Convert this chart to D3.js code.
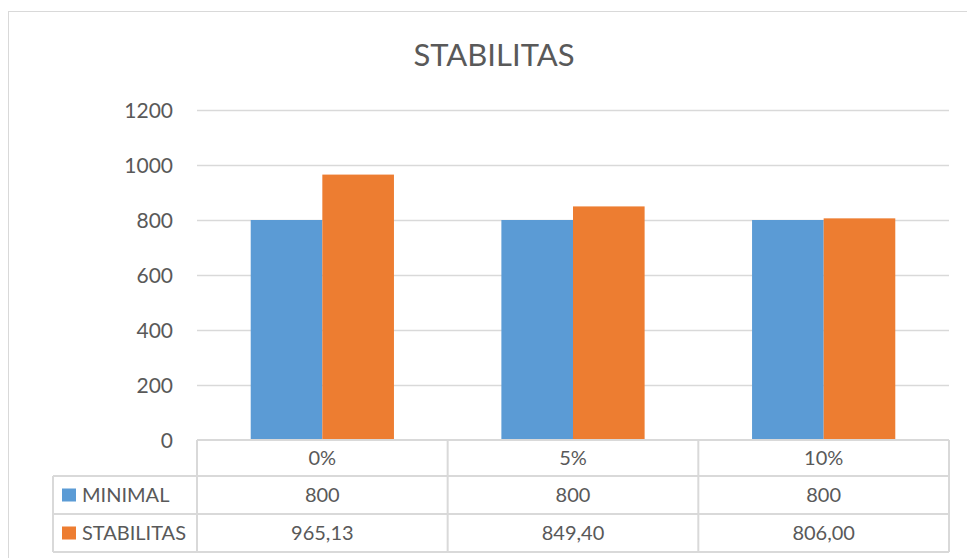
<!DOCTYPE html>
<html>
<head>
<meta charset="utf-8">
<script src="https://cdn.jsdelivr.net/npm/d3@7"></script>
<style>
  html, body { margin: 0; padding: 0; background: #fff; }
  svg { display: block; font-family: "Lato", "Open Sans", sans-serif; }
</style>
</head>
<body>
<svg id="chart" width="967" height="558"></svg>
<script>
// Chart data
const title = "STABILITAS";
const categories = ["0%", "5%", "10%"];
const seriesNames = ["MINIMAL", "STABILITAS"];
const minimalValues = [800, 800, 800];
const stabilitasValues = [965.13, 849.40, 806.00];
const minimalLabels = ["800", "800", "800"];
const stabilitasLabels = ["965,13", "849,40", "806,00"];
const yTicks = [0, 200, 400, 600, 800, 1000, 1200];
const colors = ["#5B9BD5", "#ED7D31"];

const values = [minimalValues, stabilitasValues];
const labels = [minimalLabels, stabilitasLabels];

const svg = d3.select("#chart");
const W = 967, H = 558;
const plot = { left: 197, right: 949, top: 110, bottom: 440 };
const gridColor = "#d9d9d9";
const textColor = "#595959";
const fontSize = 20;

// Chart area frame
svg.append("rect")
  .attr("x", 8.5).attr("y", 11.5)
  .attr("width", W + 10).attr("height", H + 10)
  .attr("fill", "#fff").attr("stroke", gridColor).attr("stroke-width", 1);

// Title
svg.append("text")
  .attr("x", 494).attr("y", 66)
  .attr("text-anchor", "middle")
  .attr("font-size", 31)
  .attr("fill", textColor)
  .text(title);

// Scales
const y = d3.scaleLinear().domain([0, 1200]).range([plot.bottom, plot.top]);
const x0 = d3.scaleBand().domain(categories).range([plot.left, plot.right]).padding(0);
const x1 = d3.scaleBand().domain(seriesNames).range([0, x0.bandwidth()])
  .paddingInner(0).paddingOuter(0.75);

// Gridlines
svg.append("g")
  .selectAll("line")
  .data(yTicks.filter(d => d > 0))
  .join("line")
  .attr("x1", plot.left).attr("x2", plot.right)
  .attr("y1", d => Math.round(y(d)) + 0.5)
  .attr("y2", d => Math.round(y(d)) + 0.5)
  .attr("stroke", gridColor).attr("stroke-width", 1.5);

// Y axis labels
const yAxis = d3.axisLeft(y).tickValues(yTicks).tickFormat(d3.format("d"))
  .tickSize(0).tickPadding(0);
const yg = svg.append("g")
  .attr("transform", `translate(${plot.left - 24},0)`)
  .call(yAxis);
yg.select(".domain").remove();
yg.selectAll("text")
  .attr("font-size", 21)
  .attr("font-family", "Lato, 'Open Sans', sans-serif")
  .attr("fill", textColor)
  .attr("dy", "0.35em");

// Bars
const groups = svg.append("g")
  .selectAll("g")
  .data(categories)
  .join("g")
  .attr("transform", d => `translate(${x0(d)},0)`);

groups.selectAll("rect")
  .data((c, i) => seriesNames.map((s, k) => ({ s, k, v: values[k][i] })))
  .join("rect")
  .attr("x", d => x1(d.s))
  .attr("width", x1.bandwidth())
  .attr("y", d => y(d.v))
  .attr("height", d => y(0) - y(d.v))
  .attr("fill", d => colors[d.k]);

// Data table
const legendLeft = 53;
const rowEdges = [440, 476, 514, 552];
const tbl = svg.append("g").attr("stroke", gridColor).attr("stroke-width", 2).attr("fill", "none");

// horizontal lines
tbl.append("line").attr("x1", plot.left).attr("x2", plot.right).attr("y1", rowEdges[0]).attr("y2", rowEdges[0]);
rowEdges.slice(1).forEach(ry => {
  tbl.append("line").attr("x1", legendLeft).attr("x2", plot.right).attr("y1", ry).attr("y2", ry);
});
// vertical lines
const colEdges = [plot.left, ...categories.map(c => x0(c) + x0.bandwidth())];
colEdges.forEach(cx => {
  tbl.append("line").attr("x1", cx).attr("x2", cx).attr("y1", rowEdges[0]).attr("y2", rowEdges[3]);
});
tbl.append("line").attr("x1", legendLeft).attr("x2", legendLeft).attr("y1", rowEdges[1]).attr("y2", rowEdges[3]);

const cellText = svg.append("g")
  .attr("font-size", fontSize)
  .attr("fill", textColor)
  .attr("text-anchor", "middle");

// category row
cellText.selectAll("text.cat")
  .data(categories)
  .join("text")
  .attr("class", "cat")
  .attr("x", d => x0(d) + x0.bandwidth() / 2)
  .attr("y", (rowEdges[0] + rowEdges[1]) / 2)
  .attr("dy", "0.35em")
  .text(d => d);

// value rows
seriesNames.forEach((s, k) => {
  const cy = (rowEdges[k + 1] + rowEdges[k + 2]) / 2;
  cellText.append("g").selectAll("text")
    .data(categories)
    .join("text")
    .attr("x", d => x0(d) + x0.bandwidth() / 2)
    .attr("y", cy)
    .attr("dy", "0.35em")
    .text((d, i) => labels[k][i]);

  // legend key
  svg.append("rect")
    .attr("x", 62).attr("y", cy - 6.5)
    .attr("width", 14).attr("height", 13)
    .attr("fill", colors[k]);
  svg.append("text")
    .attr("x", 82).attr("y", cy)
    .attr("dy", "0.35em")
    .attr("font-size", fontSize)
    .attr("fill", textColor)
    .text(s);
});
</script>
</body>
</html>
